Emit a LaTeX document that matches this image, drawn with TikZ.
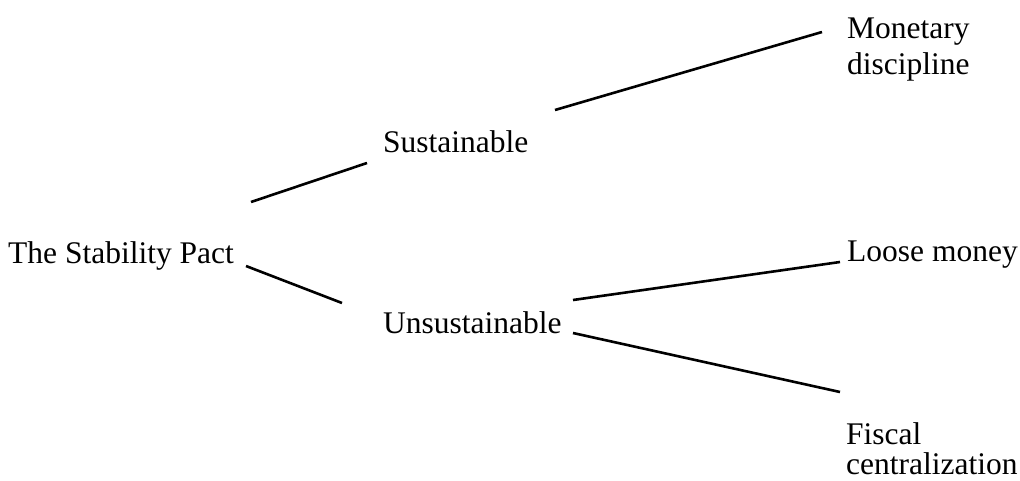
\documentclass[tikz,border=0pt]{standalone}
\usepackage{fontspec}
\setmainfont{Liberation Serif}
\begin{document}
\begin{tikzpicture}[x=1pt,y=-1pt,
  lbl/.style={anchor=base west,inner sep=0pt,font=\fontsize{31.5}{36}\selectfont,align=left},
  mlbl/.style={anchor=north west,inner sep=0pt,font=\fontsize{31.5}{36}\selectfont,align=left},
  conn/.style={line width=2.6pt}]
\useasboundingbox (0,0) rectangle (1020,480);
\node[lbl] (pact) at (8,263) {The Stability Pact};
\node[lbl] (sus) at (383,152) {Sustainable};
\node[lbl] (uns) at (383,333) {Unsustainable};
\node[mlbl] (mon) at (847,18) {Monetary\\[0pt]discipline};
\node[lbl] (loose) at (847,261) {Loose money};
\node[mlbl] (fis) at (846,422) {Fiscal\\[-6pt]centralization};
\coordinate (p1) at (251,202);
\coordinate (s1) at (367,163);
\coordinate (p2) at (246,266);
\coordinate (u1) at (342,303);
\coordinate (s2) at (555,110);
\coordinate (m1) at (822,32);
\coordinate (u2) at (573,300);
\coordinate (l1) at (840,262);
\coordinate (u3) at (573,333);
\coordinate (f1) at (840,392);
\draw[conn] (p1) -- (s1);
\draw[conn] (p2) -- (u1);
\draw[conn] (s2) -- (m1);
\draw[conn] (u2) -- (l1);
\draw[conn] (u3) -- (f1);
\end{tikzpicture}
\end{document}
